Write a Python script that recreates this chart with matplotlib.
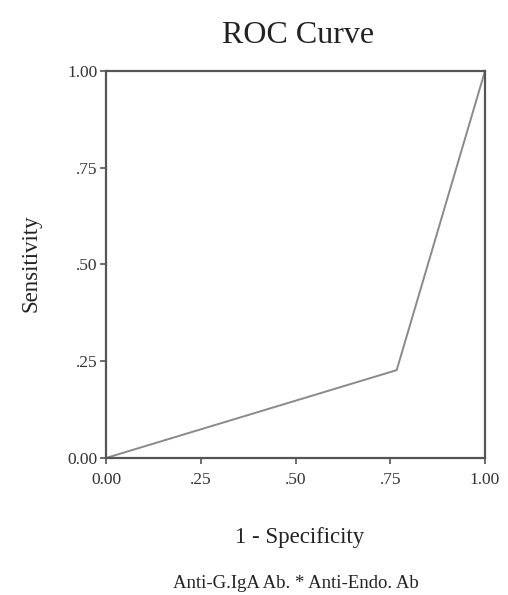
import matplotlib
matplotlib.use("Agg")
import matplotlib.pyplot as plt

# ROC points
fpr = [0.0, 0.767, 1.0]
tpr = [0.0, 0.227, 1.0]

tick_vals = [0.0, 0.25, 0.5, 0.75, 1.0]
tick_labels = ["0.00", ".25", ".50", ".75", "1.00"]

plt.rcParams["font.family"] = ["Liberation Serif", "DejaVu Serif"]

fig = plt.figure(figsize=(5.08, 5.95), dpi=100)
ax = fig.add_axes([0.2087, 0.2303, 0.746, 0.6504])

ax.plot(fpr, tpr, color="#8a8a8a", lw=1.4, solid_joinstyle="miter")

ax.set_xlim(0, 1)
ax.set_ylim(0, 1)
ax.set_xticks(tick_vals)
ax.set_xticklabels(tick_labels)
ax.set_yticks(tick_vals)
ax.set_yticklabels(tick_labels)
ax.tick_params(direction="out", length=4, width=1.2, color="#555555",
               labelsize=12.5, labelcolor="#333333")
ax.tick_params(axis="x", pad=6)
ax.tick_params(axis="y", pad=2)
for s in ax.spines.values():
    s.set_color("#555555")
    s.set_linewidth(1.6)

fig.text(0.587, 0.94, "ROC Curve", ha="center", va="center", fontsize=23, color="#222222")
fig.text(0.59, 0.097, "1 - Specificity", ha="center", va="center", fontsize=16.5, color="#222222")
fig.text(0.061, 0.558, "Sensitivity", ha="center", va="center", rotation=90, fontsize=16.5, color="#222222")
fig.text(0.583, 0.02, "Anti-G.IgA Ab. * Anti-Endo. Ab", ha="center", va="center", fontsize=13.5, color="#222222")

fig.savefig("out.png", dpi=100, facecolor="white")
